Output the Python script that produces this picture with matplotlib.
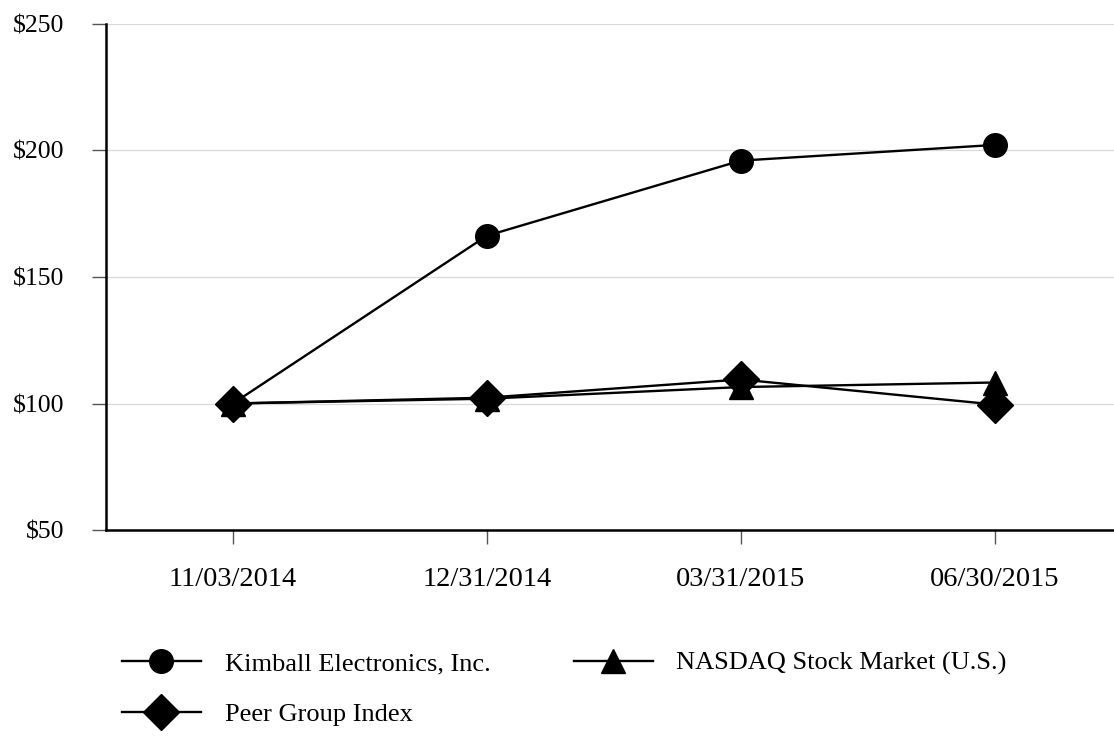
import matplotlib
matplotlib.use("Agg")
import matplotlib.pyplot as plt

dates = ["11/03/2014", "12/31/2014", "03/31/2015", "06/30/2015"]
kimball = [100, 166.3, 196.0, 202.2]
nasdaq = [100, 101.9, 106.5, 108.3]
peer = [100, 102.3, 109.5, 99.6]
yticks = [50, 100, 150, 200, 250]

plt.rcParams['font.family'] = ['Liberation Serif', 'DejaVu Serif']

fig = plt.figure(figsize=(11.14, 7.42), dpi=100)
ax = fig.add_axes([106 / 1114, 1 - 530 / 742, 1 - 106 / 1114, 506 / 742])

x = list(range(len(dates)))
ax.plot(x, kimball, color='black', lw=1.7, marker='o', ms=17, label='Kimball Electronics, Inc.', zorder=3)
ax.plot(x, nasdaq, color='black', lw=1.7, marker='^', ms=17, label='NASDAQ Stock Market (U.S.)', zorder=3)
ax.plot(x, peer, color='black', lw=1.7, marker='D', ms=18, label='Peer Group Index', zorder=4)

ax.set_xlim(-0.5, 3.47)
ax.set_ylim(50, 250)
ax.set_xticks(x)
ax.set_xticklabels(dates, fontsize=20.5)
ax.set_yticks(yticks)
ax.set_yticklabels(['$%d' % v for v in yticks], fontsize=18.5)
ax.yaxis.grid(True, color='#d9d9d9', lw=0.9)
ax.set_axisbelow(True)

for s in ['top', 'right']:
    ax.spines[s].set_visible(False)
for s in ['left', 'bottom']:
    ax.spines[s].set_linewidth(1.8)
    ax.spines[s].set_color('black')
ax.tick_params(axis='both', length=10, width=1, color='#555555')
ax.tick_params(axis='y', pad=20)
ax.tick_params(axis='x', pad=17)

handles, labels = ax.get_legend_handles_labels()
order = [0, 2, 1]
fig.legend([handles[i] for i in order], [labels[i] for i in order],
           loc='upper left', bbox_to_anchor=(0.088, 0.154), ncol=2, frameon=False,
           fontsize=19, handlelength=3.0, columnspacing=3.15, labelspacing=1.05,
           markerscale=1.0, handletextpad=0.9)

fig.savefig('out.png', dpi=100)
